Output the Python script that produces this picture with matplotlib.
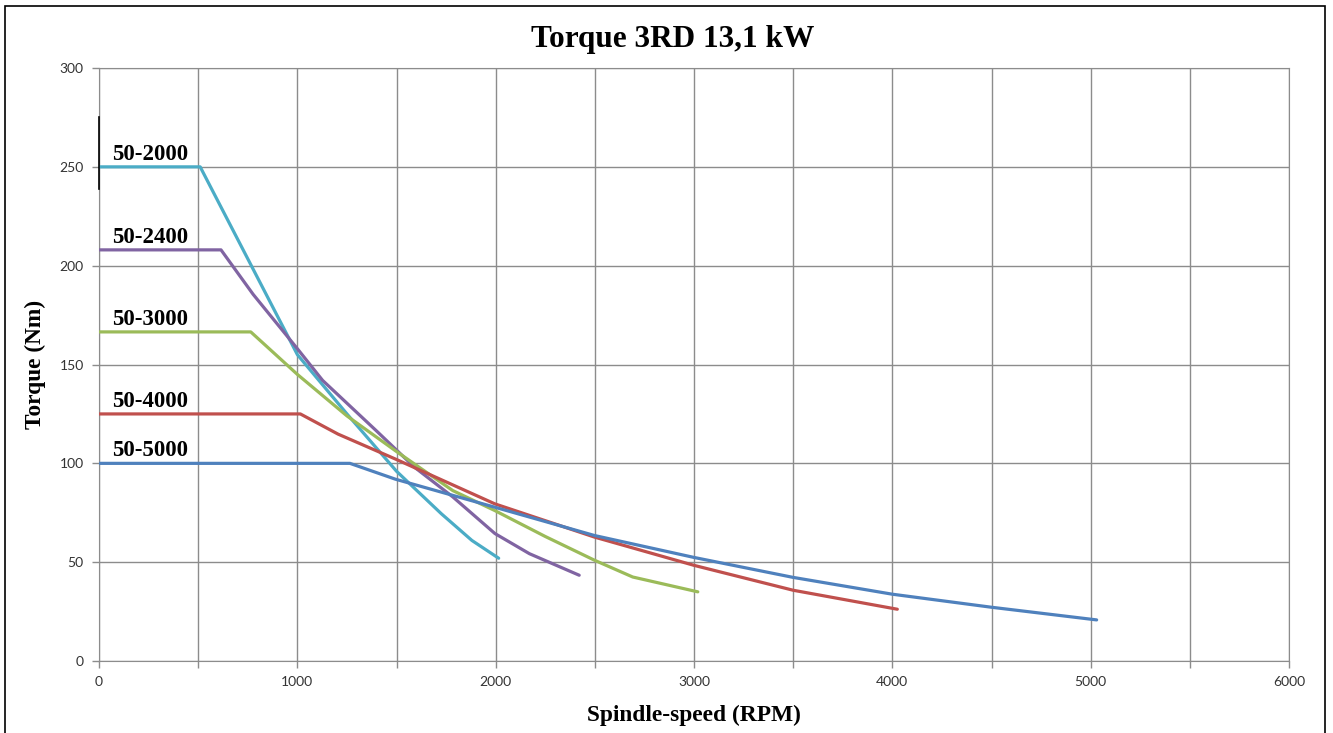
import matplotlib.pyplot as plt
from matplotlib.patches import Rectangle

# rpm / torque points
rpm_2000 = [0, 510, 1000, 1250, 1500, 1726, 1880, 2015]
nm_2000 = [250, 250, 155, 125, 96, 74.5, 61, 52]

rpm_2400 = [0, 615, 777, 1000, 1127, 1398, 1591, 1784, 1996, 2170, 2421]
nm_2400 = [208, 208, 185.5, 158, 142, 116.5, 98, 83, 64.5, 54.3, 43.4]

rpm_3000 = [0, 765, 1000, 1250, 1494, 1784, 1996, 2250, 2498, 2691, 3019]
nm_3000 = [166.5, 166.5, 145, 124, 106.4, 86.2, 76.1, 63, 51, 42.5, 35]

rpm_4000 = [0, 1015, 1205, 1494, 1996, 2498, 3000, 3500, 4025]
nm_4000 = [125, 125, 114.8, 102.2, 79.5, 62.7, 48.4, 35.8, 26.2]

rpm_5000 = [0, 1265, 1494, 1996, 2498, 3000, 3500, 4000, 4500, 5030]
nm_5000 = [100, 100, 92, 77.8, 63.5, 52.4, 42.3, 33.8, 27.2, 20.8]

series = [
    ('50-2000', rpm_2000, nm_2000, '#4BACC6'),
    ('50-2400', rpm_2400, nm_2400, '#8064A2'),
    ('50-3000', rpm_3000, nm_3000, '#9BBB59'),
    ('50-4000', rpm_4000, nm_4000, '#C0504D'),
    ('50-5000', rpm_5000, nm_5000, '#4F81BD'),
]

x_ticks = [0, 1000, 2000, 3000, 4000, 5000, 6000]
y_ticks = [0, 50, 100, 150, 200, 250, 300]

grid_col = '#8c8c8c'

fig = plt.figure(figsize=(13.33, 7.33), dpi=100)
ax = fig.add_axes([0.0743, 0.0982, 0.8927, 0.809])

for name, xs, ys, col in series:
    ax.plot(xs, ys, color=col, lw=2.3, solid_capstyle='round', zorder=3)
    ax.text(65, ys[0] + 3.5, name, ha='left', va='baseline', fontsize=16.5,
            fontweight='bold', family='Liberation Serif', zorder=4)

# small dark mark on the y axis, as in the original picture
ax.plot([0, 0], [239, 275], color='black', lw=1.2, zorder=4, clip_on=False)

ax.set_xlim(0, 6000)
ax.set_ylim(0, 300)
ax.set_xticks(x_ticks)
ax.set_xticks(range(500, 6000, 1000), minor=True)
ax.set_yticks(y_ticks)
ax.grid(True, which='both', color=grid_col, lw=1.0, zorder=0)
ax.tick_params(which='both', length=5, color=grid_col, width=1, labelsize=10,
               labelcolor='#333333', pad=6)
for lab in ax.get_xticklabels() + ax.get_yticklabels():
    lab.set_family('Lato')
for s in ax.spines.values():
    s.set_color(grid_col)

ax.set_xlabel('Spindle-speed (RPM)', fontsize=16.8, fontweight='bold',
              family='Liberation Serif', labelpad=12)
ax.set_ylabel('Torque (Nm)', fontsize=16.8, fontweight='bold',
              family='Liberation Serif', labelpad=10)
fig.text(0.505, 0.946, 'Torque 3RD 13,1 kW', ha='center', va='center',
         fontsize=22.5, fontweight='bold', family='Liberation Serif')

fig.patches.append(Rectangle((0.004, -0.01), 0.99, 1.002, transform=fig.transFigure,
                             fill=False, edgecolor='black', lw=1.2))

fig.savefig('out.png', dpi=100)
